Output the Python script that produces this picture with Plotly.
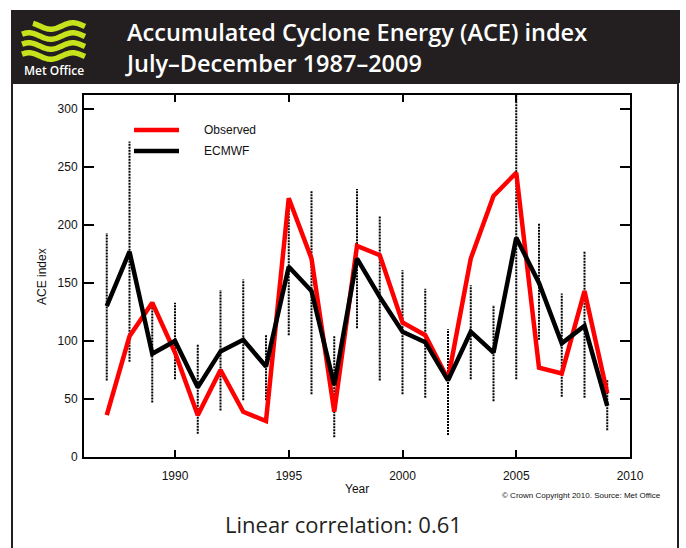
import math
import plotly.graph_objects as go

# ---------------- data ----------------
years = list(range(1987, 2010))
observed = [36, 104, 133, 90, 36, 75, 39, 31, 223, 171, 39, 182, 174, 116,
            105, 67, 171, 225, 245, 77, 72, 143, 55]
ecmwf = [130, 177, 89, 100, 60, 91, 101, 78, 164, 143, 62, 171, 138, 108,
         99, 66, 108, 90, 189, 150, 98, 113, 44]
ens_low = [66, 82, 47, 67, 20, 40, 49, 49, 105, 54, 17, 111, 66, 54,
           51, 19, 67, 48, 67, 101, 52, 51, 23]
ens_high = [193, 272, 131, 133, 97, 144, 153, 105, 222, 230, 105, 231, 208, 161,
            145, 110, 148, 131, 312, 202, 141, 177, 67]
x_ticks = [1990, 1995, 2000, 2005, 2010]
y_ticks = [0, 50, 100, 150, 200, 250, 300]

title1 = "Accumulated Cyclone Energy (ACE) index"
title2 = "July\u2013December 1987\u20132009"
footer = "Linear correlation: 0.61"
credit = "\u00a9 Crown Copyright 2010. Source: Met Office"

# ---------------- layout helpers (pixel -> paper) ----------------
W, H = 686, 548
L, R, T, B = 84, 630, 95, 457


def PX(x):
    return (x - L) / (R - L)


def PY(y):
    return (B - y) / (B - T)


DARK = "#231f20"
AXFONT = "Liberation Sans, Arial, sans-serif"
HFONT = "Open Sans, sans-serif"

fig = go.Figure()

# ensemble spread (dotted vertical lines)
ex, ey = [], []
for yr, lo, hi in zip(years, ens_low, ens_high):
    ex += [yr, yr, None]
    ey += [lo, hi, None]
fig.add_trace(go.Scatter(x=ex, y=ey, mode="lines", hoverinfo="skip",
                         line=dict(color="#000000", width=2, dash="2px,1px"),
                         showlegend=False))

fig.add_trace(go.Scatter(x=years, y=observed, mode="lines", name="Observed",
                         line=dict(color="#ff0000", width=4.5), showlegend=False))
fig.add_trace(go.Scatter(x=years, y=ecmwf, mode="lines", name="ECMWF",
                         line=dict(color="#000000", width=4.5), showlegend=False))

axis_common = dict(showgrid=False, zeroline=False, showline=True, linewidth=2,
                   linecolor="black", ticks="inside", tickwidth=2, tickcolor="black",
                   mirror="ticks", tickfont=dict(family=AXFONT, size=12, color="#111111"))

fig.update_xaxes(range=[1986, 2010], tickvals=x_ticks, ticklen=7,
                 ticklabelstandoff=7, **axis_common)
fig.update_yaxes(range=[0, 312], tickvals=y_ticks, ticklen=10,
                 ticklabelstandoff=2, **axis_common)

shapes = []
# header band
shapes.append(dict(type="rect", xref="paper", yref="paper",
                   x0=PX(11), x1=PX(680), y0=PY(83), y1=PY(10),
                   fillcolor=DARK, line=dict(width=0), layer="below"))
# frame below header
shapes.append(dict(type="rect", xref="paper", yref="paper",
                   x0=PX(12), x1=PX(678), y0=PY(575), y1=PY(83),
                   fillcolor="rgba(0,0,0,0)", line=dict(color=DARK, width=2), layer="below"))

# Met Office logo waves
for i, (xs, yc) in enumerate([(33, 26), (22, 36), (22, 46), (22, 56)]):
    pts = []
    x = xs
    while x <= 85:
        y = yc - 3.2 * math.sin(2 * math.pi * (x - 22) / 44 + 0.6)
        pts.append(f"{PX(x):.5f},{PY(y):.5f}")
        x += 1
    path = "M " + " L ".join(pts)
    shapes.append(dict(type="path", xref="paper", yref="paper", path=path,
                       line=dict(color="#c6e21c", width=5.5)))

# legend lines
shapes.append(dict(type="line", xref="paper", yref="paper",
                   x0=PX(134), x1=PX(179), y0=PY(130), y1=PY(130),
                   line=dict(color="#ff0000", width=4.5)))
shapes.append(dict(type="line", xref="paper", yref="paper",
                   x0=PX(134), x1=PX(179), y0=PY(151), y1=PY(151),
                   line=dict(color="#000000", width=4.5)))

ann = []


def add_text(text, x, y, size, color, family, xanchor="left", weight=None, angle=0,
             align="center"):
    f = dict(size=size, color=color, family=family)
    if weight:
        f["weight"] = weight
    ann.append(dict(text=text, x=PX(x), y=PY(y), xref="paper", yref="paper",
                    xanchor=xanchor, yanchor="middle", showarrow=False, font=f,
                    textangle=angle, align=align))


add_text(title1 + "<br>" + title2, 123, 47.5, 23.5, "white", HFONT, weight=600,
         align="left")
add_text("Met Office", 53.5, 70.5, 12, "white", HFONT, xanchor="center", weight=600)
add_text("Observed", 202, 130, 12, "#111111", AXFONT)
add_text("ECMWF", 202, 151, 12, "#111111", AXFONT)
add_text("Year", 357, 489, 12, "#111111", AXFONT, xanchor="center")
add_text("ACE index", 42, 277, 12, "#111111", AXFONT, xanchor="center", angle=-90)
add_text(credit, 663, 495, 8, "#111111", AXFONT, xanchor="right")
add_text(footer, 343, 524, 22, DARK, HFONT, xanchor="center")

fig.update_layout(width=W, height=H, margin=dict(l=L, r=W - R, t=T, b=H - B),
                  paper_bgcolor="white", plot_bgcolor="white",
                  shapes=shapes, annotations=ann, showlegend=False)

fig.write_html("out.html", config={"displayModeBar": False},
               post_script="document.body.style.margin='0';")
